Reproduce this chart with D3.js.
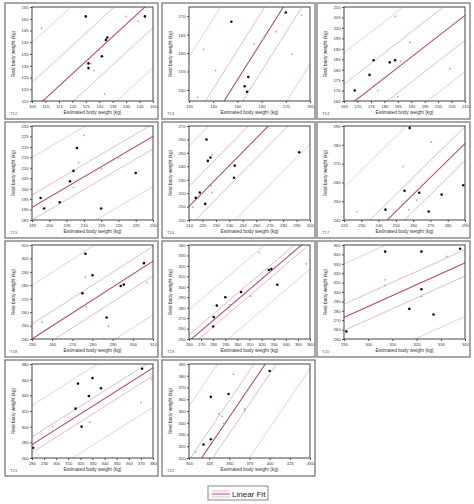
<!DOCTYPE html>
<html><head><meta charset="utf-8">
<script src="https://cdn.jsdelivr.net/npm/d3@7"></script>
<style>body{margin:0;background:#fff}svg{font-family:"Liberation Sans",Arial,sans-serif}</style>
</head><body><svg id="c" width="474" height="504"></svg>
<script>
const panels=["T12","T13","T14","T15","T16","T17","T18","T19","T20","T21","T22"];
const xDomains=[[105,150],[130,180],[165,210],[195,230],[210,300],[220,290],[250,310],[260,360],[290,340],[280,380],[300,450]];
const yDomains=[[115,155],[147,172.5],[165,210],[185,230],[200,270],[240,290],[240,310],[250,340],[250,350],[260,380],[310,390]];
const xTickSteps=[5,10,5,5,10,10,10,10,10,10,25];
const yTickSteps=[5,5,5,5,10,10,10,10,10,20,10];
const fitStart=[[109,115],[144.5,147],[169,165],[195,191],[210,210],[245,240],[250,240],[262,250],[290,273],[280,277],[315.6,310]];
const fitEnd=[[147,155],[169,172.5],[210,206],[230,225],[269,270],[290,280.7],[310,298],[353,340],[340,331],[380,375],[394.6,390]];
const innerBand=[12,8,12,6,15,9,11,6,14,10,14];
const outerBand=[29,27,27,24,45,40,40,30,57,50,60];
const darkPoints=[
 [[125,151],[126,131],[126,129],[131,134],[132.5,141],[133,142],[147,151]],
 [[147.5,168.5],[153,151],[154.5,153.5],[154,149.5],[170,171]],
 [[169,170],[174.5,177.5],[176,184.5],[182,183.5],[184,184.5]],
 [[197.5,195.5],[198.5,190.5],[203,193.5],[206,203.5],[207,208.5],[208,219.5],[215,190.5],[225,207.5]],
 [[215,216.5],[218,220.5],[222,212],[223,260],[224,244],[226,246.5],[243.5,231.5],[244,240.5],[292,250.5]],
 [[244,245.5],[255,255.5],[258,289],[263.5,254.5],[269,244.5],[276.5,253.5],[289,258.5]],
 [[275,274],[276.5,303.5],[280,287.5],[287,256],[294,279.5],[295.5,280.5],[305.5,296.5]],
 [[280,262],[280.5,271],[283,282],[290,290],[303,295],[326,316],[328,317],[333,302]],
 [[291,258],[307,343],[317,282],[322,343],[322,303],[327,276],[338,346]],
 [[281,273],[316,323],[318,355],[321,300],[327,339],[330,362],[337,349],[371,374]],
 [[318,321.5],[327,362],[327,326],[349,364.5],[400,384]]];
const lightPoints=[
 [[108.5,146],[128,128],[132,118],[140,151],[144.5,149],[127,131]],
 [[133.5,148],[136,161],[141,155.3],[157,162.5],[161,164],[166,165.8],[172.5,159.7],[176.5,170.3]],
 [[177.5,170],[184,205.5],[185,167],[186,184],[189.5,193],[204.5,180.5]],
 [[207,200.5],[208.5,212.5],[210,225.5],[215,209.5],[220,214.5]],
 [[213,209.5],[227,248.5],[226.5,225.5],[227,220.5]],
 [[227.5,244.5],[254,268.5],[257.5,245.5],[262,250.5],[270.5,281.5]],
 [[255,252.5],[276.5,286],[277,264],[287.5,276],[288,249.5],[307,282]],
 [[294,283],[311,291],[318,333],[357,322]],
 [[307,313],[307,307],[322,295],[332.5,338],[332.5,322],[290,292]],
 [[297,300],[328,306],[370,331],[379,361]],
 [[308,315],[337,347.5],[341,345.5],[343,339.5],[355,381.5],[369,352],[369,350.5]]];

const svg=d3.select("#c");
const PW=153,PH=116,lefts=[5,162,317],tops=[3,122,241,360];
panels.forEach((name,i)=>{
  const px=lefts[i%3],py=tops[Math.floor(i/3)];
  const g=svg.append("g").attr("transform",`translate(${px},${py})`);
  g.append("rect").attr("x",0).attr("y",0).attr("width",PW).attr("height",PH).attr("fill","#fff").attr("stroke","#8a8a8a").attr("stroke-width",1.5);
  const L=27,R=PW-5,T=4,B=98;
  const x=d3.scaleLinear().domain(xDomains[i]).range([L,R]);
  const y=d3.scaleLinear().domain(yDomains[i]).range([B,T]);
  const cid="clip"+i;
  g.append("clipPath").attr("id",cid).append("rect").attr("x",L).attr("y",T).attr("width",R-L).attr("height",B-T);
  const pl=g.append("g").attr("clip-path",`url(#${cid})`);
  const [a,b]=[fitStart[i],fitEnd[i]];
  const slope=(b[1]-a[1])/(b[0]-a[0]);
  const f=v=>a[1]+(v-a[0])*slope;
  const xs=[xDomains[i][0]-50,xDomains[i][1]+50];
  const line=(off,col,w)=>pl.append("line").attr("x1",x(xs[0])).attr("y1",y(f(xs[0])+off)).attr("x2",x(xs[1])).attr("y2",y(f(xs[1])+off)).attr("stroke",col).attr("stroke-width",w);
  [outerBand[i],-outerBand[i]].forEach(o=>line(o,"#e8c6d2",0.9));
  [innerBand[i],-innerBand[i]].forEach(o=>line(o,"#e0b2c3",0.9));
  line(0,"#b44f72",1.1);
  pl.selectAll(".lp").data(lightPoints[i]).enter().append("circle").attr("cx",d=>x(d[0])).attr("cy",d=>y(d[1])).attr("r",0.9).attr("fill","#aaa");
  pl.selectAll(".dp").data(darkPoints[i]).enter().append("circle").attr("cx",d=>x(d[0])).attr("cy",d=>y(d[1])).attr("r",1.3).attr("fill","#111");
  const xt=d3.range(xDomains[i][0],xDomains[i][1]+0.01,xTickSteps[i]);
  const yt=d3.range(Math.ceil(yDomains[i][0]/yTickSteps[i])*yTickSteps[i],yDomains[i][1]+0.01,yTickSteps[i]);
  const xa=g.append("g").attr("transform",`translate(0,${B})`).call(d3.axisBottom(x).tickValues(xt).tickSize(2).tickPadding(1.5).tickFormat(d3.format("d")));
  const ya=g.append("g").attr("transform",`translate(${L},0)`).call(d3.axisLeft(y).tickValues(yt).tickSize(2).tickPadding(1.5).tickFormat(d3.format("d")));
  [xa,ya].forEach(ax=>{ax.selectAll("text").attr("font-size",4.2).attr("fill","#333");ax.selectAll("line").attr("stroke","#555");ax.select(".domain").remove();});
  xa.selectAll("text").attr("dy","0.9em");
  g.append("rect").attr("x",L).attr("y",T).attr("width",R-L).attr("height",B-T).attr("fill","none").attr("stroke","#444").attr("stroke-width",1);
  g.append("text").attr("x",(L+R)/2).attr("y",111).attr("text-anchor","middle").attr("font-size",4.8).attr("fill","#333").text("Estimated body weight (kg)");
  g.append("text").attr("transform",`translate(10,${(T+B)/2}) rotate(-90)`).attr("text-anchor","middle").attr("font-size",4.8).attr("fill","#333").text("Real body weight (kg)");
  g.append("text").attr("x",5).attr("y",112).attr("font-size",4.2).attr("fill","#555").text(name);
});
const lg=svg.append("g").attr("transform","translate(208,486)");
lg.append("rect").attr("width",60).attr("height",14).attr("fill","#fff").attr("stroke","#888");
lg.append("line").attr("x1",4).attr("x2",22).attr("y1",5).attr("y2",5).attr("stroke","#e3b9c8");
lg.append("line").attr("x1",4).attr("x2",22).attr("y1",8).attr("y2",8).attr("stroke","#b44f72");
lg.append("line").attr("x1",4).attr("x2",22).attr("y1",11).attr("y2",11).attr("stroke","#e3b9c8");
lg.append("text").attr("x",24).attr("y",10.5).attr("font-size",8).attr("fill","#222").text("Linear Fit");
</script></body></html>
